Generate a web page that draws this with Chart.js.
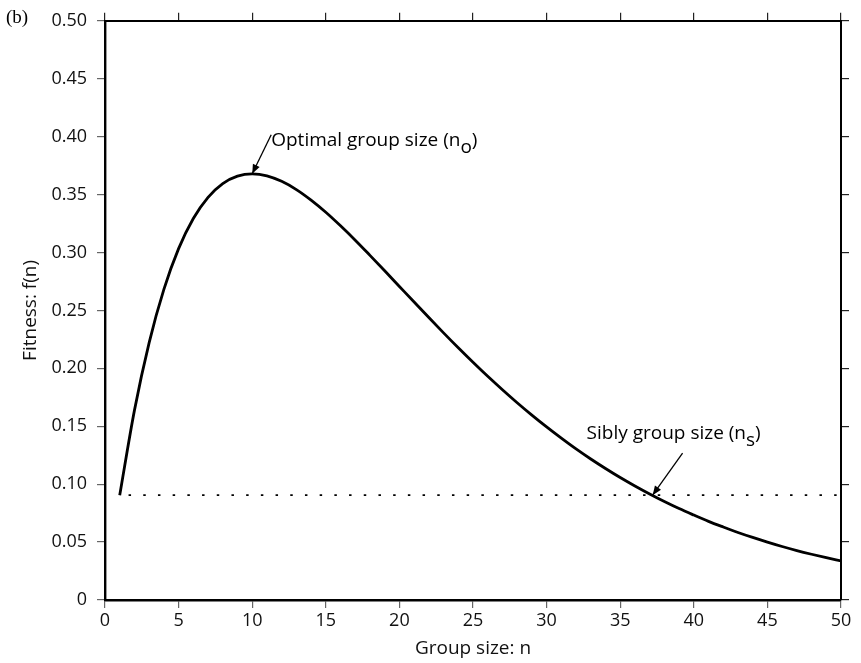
<!DOCTYPE html>
<html>
<head>
<meta charset="utf-8">
<script src="https://cdn.jsdelivr.net/npm/chart.js@4.4.1/dist/chart.umd.min.js"></script>
<style>
  html, body { margin: 0; padding: 0; background: #fff; }
  #wrap { width: 861px; height: 663px; position: relative; }
</style>
</head>
<body>
<div id="wrap"><canvas id="myChart" width="861" height="663"></canvas></div>
<script>
// group size n and fitness f(n)
const groupSize = [1, 2, 3, 4, 5, 6, 7, 8, 9, 10, 11, 12, 13, 14, 15, 16, 17, 18, 19, 20,
  21, 22, 23, 24, 25, 26, 27, 28, 29, 30, 31, 32, 33, 34, 35, 36, 37, 38, 39, 40,
  41, 42, 43, 44, 45, 46, 47, 48, 49, 50]
const fitness = [0.0905, 0.1637, 0.2222, 0.2681, 0.3033, 0.3293, 0.3476, 0.3595, 0.3659, 0.3679,
  0.3662, 0.3614, 0.3543, 0.3452, 0.3347, 0.3230, 0.3106, 0.2975, 0.2842, 0.2707,
  0.2572, 0.2438, 0.2306, 0.2177, 0.2052, 0.1931, 0.1815, 0.1703, 0.1596, 0.1494,
  0.1397, 0.1304, 0.1217, 0.1135, 0.1057, 0.0984, 0.0915, 0.0850, 0.0789, 0.0733,
  0.0679, 0.0630, 0.0583, 0.0540, 0.0500, 0.0462, 0.0427, 0.0395, 0.0365, 0.0337]

// solitary fitness level f(1), drawn as the dotted reference line
const soloLevelX = [1.6, 50]
const soloLevelY = [0.0905, 0.0905]

// annotated points
const optimalN = 10, optimalF = 0.3679
const siblyN = 37.2, siblyF = 0.0905

const xTicks = [0, 5, 10, 15, 20, 25, 30, 35, 40, 45, 50]
const yTicks = [0, 0.05, 0.10, 0.15, 0.20, 0.25, 0.30, 0.35, 0.40, 0.45, 0.50]

const FONT = '"Open Sans", "Noto Sans", sans-serif'

function arrow(ctx, x1, y1, x2, y2) {
    ctx.beginPath()
    ctx.moveTo(x1, y1)
    ctx.lineTo(x2, y2)
    ctx.stroke()
    const a = Math.atan2(y2 - y1, x2 - x1)
    const len = 10, w = 0.38
    ctx.beginPath()
    ctx.moveTo(x2, y2)
    ctx.lineTo(x2 - len * Math.cos(a - w), y2 - len * Math.sin(a - w))
    ctx.lineTo(x2 - len * Math.cos(a + w), y2 - len * Math.sin(a + w))
    ctx.closePath()
    ctx.fill()
}

function labelWithSub(ctx, x, y, main, sub) {
    ctx.font = '19px ' + FONT
    ctx.fillText(main, x, y)
    let w = ctx.measureText(main).width
    ctx.fillText(sub, x + w, y + 7)
    w += ctx.measureText(sub).width
    ctx.fillText(')', x + w, y)
}

// arrows + labels + panel letter
const notes = {
    id: 'notes',
    afterDraw(chart) {
        const ctx = chart.ctx
        const xs = chart.scales.x, ys = chart.scales.y
        ctx.save()
        ctx.fillStyle = '#000'
        ctx.strokeStyle = '#000'
        ctx.lineWidth = 1.3
        ctx.textBaseline = 'alphabetic'
        ctx.textAlign = 'left'

        const ox = xs.getPixelForValue(optimalN), oy = ys.getPixelForValue(optimalF)
        arrow(ctx, ox + 19, oy - 39, ox, oy)
        labelWithSub(ctx, ox + 19, oy - 28, 'Optimal group size (n', 'o')

        const sx = xs.getPixelForValue(siblyN), sy = ys.getPixelForValue(siblyF)
        arrow(ctx, sx + 30, sy - 42, sx, sy)
        labelWithSub(ctx, sx - 66, sy - 56, 'Sibly group size (n', 's')

        ctx.font = '19px "Liberation Serif", serif'
        ctx.fillText('(b)', 6, 23)
        ctx.restore()
    }
}

const tickGrid = { drawOnChartArea: false, drawTicks: true, tickLength: 8, color: '#666', lineWidth: 1.2 }

const config = {
    type: 'line',
    data: {
        datasets: [{
            data: groupSize.map((n, i) => ({ x: n, y: fitness[i] })),
            borderColor: '#000',
            borderWidth: 2.8,
            pointRadius: 0,
            cubicInterpolationMode: 'monotone',
            fill: false
        }, {
            data: soloLevelX.map((n, i) => ({ x: n, y: soloLevelY[i] })),
            borderColor: '#000',
            borderWidth: 1.6,
            borderDash: [2.5, 12.2],
            pointRadius: 0,
            fill: false
        }]
    },
    options: {
        responsive: false,
        animation: false,
        layout: { padding: 0 },
        plugins: { legend: { display: false }, tooltip: { enabled: false } },
        scales: {
            x: {
                type: 'linear', position: 'bottom', min: 0, max: 50,
                afterBuildTicks: s => { s.ticks = xTicks.map(v => ({ value: v })) },
                afterFit: s => { s.height = 63 },
                ticks: { color: '#111', font: { family: FONT, size: 18 }, padding: 2 },
                grid: tickGrid,
                border: { color: '#000', width: 2.4 },
                title: { display: true, text: 'Group size: n', color: '#111', font: { family: FONT, size: 19 }, padding: { top: 0, bottom: 3 } }
            },
            x2: {
                type: 'linear', position: 'top', min: 0, max: 50,
                afterBuildTicks: s => { s.ticks = xTicks.map(v => ({ value: v })) },
                afterFit: s => { s.height = 20 },
                ticks: { display: false },
                grid: Object.assign({}, tickGrid, { color: '#222' }),
                border: { color: '#000', width: 2 }
            },
            y: {
                type: 'linear', position: 'left', min: 0, max: 0.5,
                afterBuildTicks: s => { s.ticks = yTicks.map(v => ({ value: v })) },
                afterFit: s => { s.width = 105 },
                ticks: {
                    color: '#111', font: { family: FONT, size: 18 }, padding: 10,
                    callback: v => v === 0 ? '0' : v.toFixed(2)
                },
                grid: tickGrid,
                border: { color: '#000', width: 2.4 },
                title: { display: true, text: 'Fitness: f(n)', color: '#111', font: { family: FONT, size: 19 }, padding: { top: 19, bottom: 0 } }
            },
            y2: {
                type: 'linear', position: 'right', min: 0, max: 0.5,
                afterBuildTicks: s => { s.ticks = yTicks.map(v => ({ value: v })) },
                afterFit: s => { s.width = 20 },
                ticks: { display: false },
                grid: Object.assign({}, tickGrid, { color: '#222' }),
                border: { color: '#000', width: 2 }
            }
        }
    },
    plugins: [notes]
}

new Chart(document.getElementById('myChart').getContext('2d'), config)
</script>
</body>
</html>
